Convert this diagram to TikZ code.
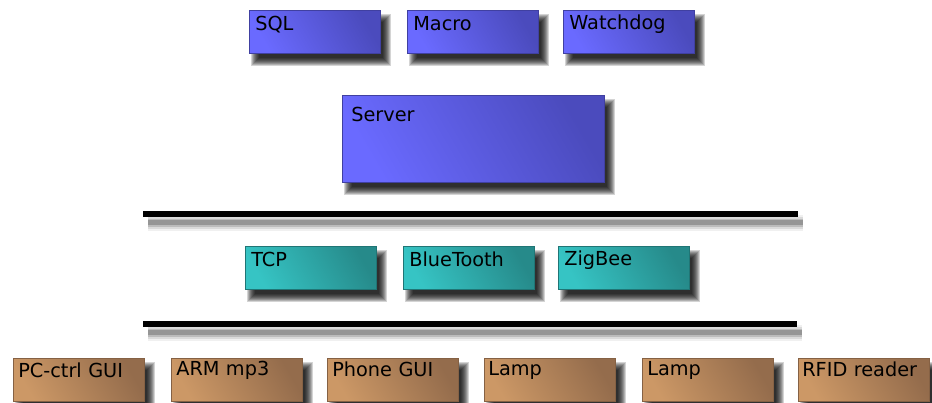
\documentclass[tikz,border=0pt]{standalone}
\usepackage{fontspec}
\setmainfont{DejaVu Sans}
\usetikzlibrary{backgrounds}
\definecolor{bluelight}{HTML}{6A6AFF}
\definecolor{bluedark}{HTML}{4B4BBD}
\definecolor{teallight}{HTML}{36C4C4}
\definecolor{tealdark}{HTML}{268A8A}
\definecolor{brownlight}{HTML}{CC9866}
\definecolor{browndark}{HTML}{946C4C}
\tikzset{
  box/.style={rectangle, anchor=north west, align=left, text width=119pt,
    inner xsep=6pt, inner ysep=0pt, text height=20pt, text depth=23pt,
    font=\fontsize{19.3}{22}\selectfont, text=black},
  bluebox/.style={box, top color=bluedark, bottom color=bluelight, shading angle=-60, draw=bluedark!85!black, line width=0.6pt},
  tealbox/.style={box, top color=tealdark, bottom color=teallight, shading angle=-60, draw=tealdark!85!black, line width=0.6pt},
  brownbox/.style={box, top color=browndark, bottom color=brownlight, shading angle=-60, draw=browndark!90!black, line width=0.6pt},
  busline/.style={line width=6.5pt, black},
  shadowlayer/.style={black, opacity=0.17},
}
\newcommand\myboxshadow[1]{%
  \begin{pgfonlayer}{background}
  \foreach \e in {-4,-3,-2,-1,0,1,2,3,4}{
    \fill[shadowlayer] ([shift={(6-\e,8-\e)}]#1.north west) rectangle ([shift={(6+\e,8+\e)}]#1.south east);
  }
  \end{pgfonlayer}}
\begin{document}
\begin{tikzpicture}[x=1pt,y=-1pt]
\begin{pgfonlayer}{background}
\fill[white] (0,0) rectangle (932,403);
\end{pgfonlayer}
\useasboundingbox (0,0) rectangle (932,403);
% top
\node[bluebox] (sql) at (249,10) {SQL};
\node[bluebox] (macro) at (407,10) {Macro};
\node[bluebox, text height=19pt, text depth=24pt] (watchdog) at (563,10) {Watchdog};
% server
\node[bluebox, text width=244pt, inner xsep=9pt, text height=26pt, text depth=61pt] (server) at (342,95) {Server};
% bus lines
\coordinate (l1a) at (143,214);
\coordinate (l1b) at (798,214);
\coordinate (l2a) at (143,324);
\coordinate (l2b) at (797,324);
\begin{pgfonlayer}{background}
\foreach \w/\o in {16/0.06,12/0.09,8/0.14,5/0.2}{
  \draw[line width=\w pt, black, opacity=\o] ([shift={(5,9)}]l1a) -- ([shift={(5,9)}]l1b);
  \draw[line width=\w pt, black, opacity=\o] ([shift={(5,9)}]l2a) -- ([shift={(5,9)}]l2b);
}
\end{pgfonlayer}
\draw[busline] (l1a) -- (l1b);
\draw[busline] (l2a) -- (l2b);
% middle
\node[tealbox] (tcp) at (245,246) {TCP};
\node[tealbox] (bt) at (403,246) {BlueTooth};
\node[tealbox, text height=19pt, text depth=24pt] (zig) at (558,246) {ZigBee};
% bottom
\node[brownbox, inner xsep=5pt, text width=121pt, text height=19pt, text depth=24pt] (pc) at (13,358) {PC-ctrl GUI};
\node[brownbox, inner xsep=5pt, text width=121pt, text height=17pt, text depth=26pt] (arm) at (171,358) {ARM mp3};
\node[brownbox, inner xsep=5pt, text width=121pt, text height=18pt, text depth=25pt] (phone) at (327,358) {Phone GUI};
\node[brownbox, inner xsep=4pt, text width=123pt, text height=17pt, text depth=26pt] (lamp1) at (484,358) {Lamp};
\node[brownbox, inner xsep=5pt, text width=121pt, text height=17pt, text depth=26pt] (lamp2) at (642,358) {Lamp};
\node[brownbox, inner xsep=4pt, text width=123pt, text height=18pt, text depth=25pt] (rfid) at (798,358) {RFID reader};
% shadows
\foreach \n in {sql,macro,watchdog,server,tcp,bt,zig,pc,arm,phone,lamp1,lamp2,rfid}{\myboxshadow{\n}}
\end{tikzpicture}
\end{document}
